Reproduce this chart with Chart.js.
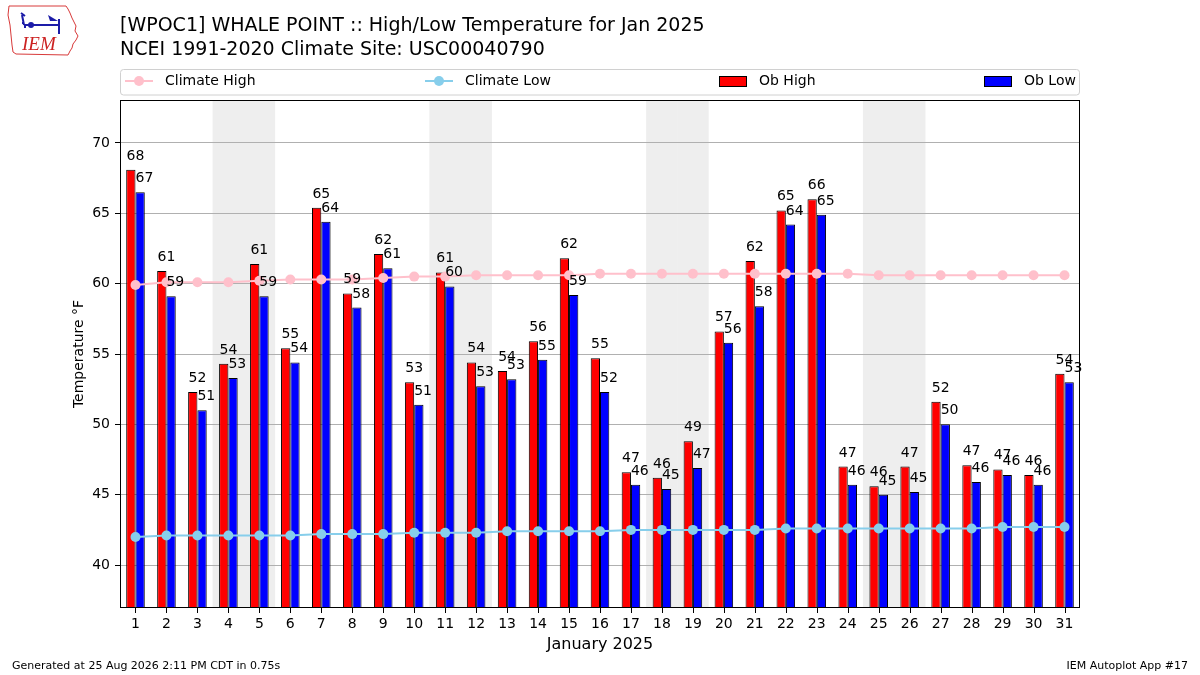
<!DOCTYPE html>
<html>
<head>
<meta charset="utf-8">
<script src="https://cdn.jsdelivr.net/npm/chart.js@4.4.1/dist/chart.umd.min.js"></script>
<style>
  html, body { margin: 0; padding: 0; background: #fff; }
  canvas { display: block; }
</style>
</head>
<body>
<canvas id="chart" width="1200" height="675"></canvas>
<script>
// WPOC1 Whale Point - Jan 2025 daily high/low vs NCEI climate

const days = ['1','2','3','4','5','6','7','8','9','10','11','12','13','14','15','16',
  '17','18','19','20','21','22','23','24','25','26','27','28','29','30','31'];
const obHigh = [68.1, 60.9, 52.3, 54.3, 61.4, 55.4, 65.4, 59.3, 62.1, 53.0, 60.8, 54.4, 53.8, 55.9, 61.8, 54.7,
  46.6, 46.2, 48.8, 56.6, 61.6, 65.2, 66.0, 47.0, 45.6, 47.0, 51.6, 47.1, 46.8, 46.4, 53.6];
const obLow = [66.5, 59.1, 51.0, 53.3, 59.1, 54.4, 64.4, 58.3, 61.1, 51.4, 59.8, 52.7, 53.2, 54.6, 59.2, 52.3,
  45.7, 45.4, 46.9, 55.8, 58.4, 64.2, 64.9, 45.7, 45.0, 45.2, 50.0, 45.9, 46.4, 45.7, 53.0];
const climateHigh = [59.9, 60.1, 60.1, 60.1, 60.2, 60.3, 60.3, 60.3, 60.4, 60.5, 60.5, 60.6, 60.6, 60.6, 60.6, 60.7,
  60.7, 60.7, 60.7, 60.7, 60.7, 60.7, 60.7, 60.7, 60.6, 60.6, 60.6, 60.6, 60.6, 60.6, 60.6];
const climateLow = [42.0, 42.1, 42.1, 42.1, 42.1, 42.1, 42.2, 42.2, 42.2, 42.3, 42.3, 42.3, 42.4, 42.4, 42.4, 42.4,
  42.5, 42.5, 42.5, 42.5, 42.5, 42.6, 42.6, 42.6, 42.6, 42.6, 42.6, 42.6, 42.7, 42.7, 42.7];
const weekendDays = [4, 5, 11, 12, 18, 19, 25, 26];
const yTicks = [40, 45, 50, 55, 60, 65, 70];

const FONT = '"DejaVu Sans", sans-serif';

// gray bands behind weekends
const weekendBands = {
  id: 'weekendBands',
  beforeDraw(chart) {
    const {ctx, chartArea: a, scales: {x}} = chart;
    ctx.save();
    ctx.fillStyle = '#fff';
    ctx.fillRect(0, 0, chart.width, chart.height);
    const w = x.getPixelForValue(1) - x.getPixelForValue(0);
    ctx.fillStyle = '#eeeeee';
    weekendDays.forEach(d => {
      const px = x.getPixelForValue(d - 1);
      ctx.fillRect(px - w / 2 - 0.3, a.top, w + 0.6, a.bottom - a.top);
    });
    ctx.restore();
  }
};

// frame, x tick marks + rounded value labels over bars
const barLabels = {
  id: 'barLabels',
  afterDatasetsDraw(chart) {
    const {ctx, chartArea: a, scales: {x}} = chart;
    ctx.save();
    ctx.strokeStyle = '#000';
    ctx.lineWidth = 1;
    ctx.strokeRect(a.left + 0.5, a.top + 0.5, a.right - a.left - 1, a.bottom - a.top - 1);
    ctx.beginPath();
    days.forEach((d, i) => {
      const px = Math.round(x.getPixelForValue(i)) + 0.5;
      ctx.moveTo(px, a.bottom);
      ctx.lineTo(px, a.bottom + 5);
    });
    ctx.stroke();

    ctx.font = '14px ' + FONT;
    ctx.fillStyle = '#000';
    ctx.textBaseline = 'alphabetic';
    [2, 3].forEach(di => {
      const meta = chart.getDatasetMeta(di);
      const vals = chart.data.datasets[di].data;
      meta.data.forEach((bar, i) => {
        if (di === 2) {
          ctx.textAlign = 'center';
          ctx.fillText(String(Math.round(vals[i])), bar.x + bar.width / 2, bar.y - 10);
        } else {
          ctx.textAlign = 'left';
          ctx.fillText(String(Math.round(vals[i])), bar.x - bar.width / 2, bar.y - 10);
        }
      });
    });
    ctx.restore();
  }
};

// titles, legend box, footer and logo
const decorations = {
  id: 'decorations',
  afterDraw(chart) {
    const ctx = chart.ctx;
    ctx.save();

    ctx.fillStyle = '#000';
    ctx.textAlign = 'left';
    ctx.textBaseline = 'alphabetic';
    ctx.font = '19px ' + FONT;
    ctx.fillText('[WPOC1] WHALE POINT :: High/Low Temperature for Jan 2025', 120, 31);
    ctx.fillText('NCEI 1991-2020 Climate Site: USC00040790', 120, 55);

    // legend
    const lx = 120.5, ly = 69.5, lw = 959, lh = 25.5, r = 3;
    ctx.beginPath();
    ctx.moveTo(lx + r, ly);
    ctx.arcTo(lx + lw, ly, lx + lw, ly + lh, r);
    ctx.arcTo(lx + lw, ly + lh, lx, ly + lh, r);
    ctx.arcTo(lx, ly + lh, lx, ly, r);
    ctx.arcTo(lx, ly, lx + lw, ly, r);
    ctx.closePath();
    ctx.fillStyle = 'rgba(255,255,255,0.8)';
    ctx.fill();
    ctx.strokeStyle = '#d0d0d0';
    ctx.lineWidth = 1;
    ctx.stroke();

    const my = 81;
    const lineItem = (x0, color, label) => {
      ctx.strokeStyle = color;
      ctx.lineWidth = 2;
      ctx.beginPath();
      ctx.moveTo(x0, my);
      ctx.lineTo(x0 + 28, my);
      ctx.stroke();
      ctx.fillStyle = color;
      ctx.beginPath();
      ctx.arc(x0 + 14, my, 5, 0, Math.PI * 2);
      ctx.fill();
      ctx.fillStyle = '#000';
      ctx.font = '14px ' + FONT;
      ctx.textBaseline = 'middle';
      ctx.fillText(label, x0 + 40, my);
    };
    const boxItem = (x0, color, label) => {
      ctx.fillStyle = color;
      ctx.fillRect(x0, 76.5, 28, 10);
      ctx.strokeStyle = '#000';
      ctx.lineWidth = 1;
      ctx.strokeRect(x0 + 0.5, 76.5, 27, 10);
      ctx.fillStyle = '#000';
      ctx.font = '14px ' + FONT;
      ctx.textBaseline = 'middle';
      ctx.fillText(label, x0 + 40, my);
    };
    lineItem(125, '#ffc0cb', 'Climate High');
    lineItem(425, '#87ceeb', 'Climate Low');
    boxItem(719, '#ff0000', 'Ob High');
    boxItem(984, '#0000ff', 'Ob Low');

    // footer
    ctx.font = '11px ' + FONT;
    ctx.fillStyle = '#000';
    ctx.textBaseline = 'alphabetic';
    ctx.textAlign = 'left';
    ctx.fillText('Generated at 25 Aug 2026 2:11 PM CDT in 0.75s', 12, 669);
    ctx.textAlign = 'right';
    ctx.fillText('IEM Autoplot App #17', 1188, 669);

    // IEM logo (rough)
    ctx.strokeStyle = '#d83a3a';
    ctx.lineWidth = 1;
    ctx.beginPath();
    const outline = [[9,6],[66,6],[68,9],[70,13],[72,18],[74,22],[76,26],[75,31],[78,36],[76,40],
      [73,44],[72,48],[70,51],[68,55],[16,54],[13,52],[12,45],[11,35],[10,25],[8,15],[9,6]];
    outline.forEach(([px, py], i) => i ? ctx.lineTo(px, py) : ctx.moveTo(px, py));
    ctx.stroke();

    ctx.strokeStyle = '#1c1ca8';
    ctx.fillStyle = '#1c1ca8';
    ctx.lineWidth = 2;
    ctx.beginPath();
    ctx.moveTo(24, 25); ctx.lineTo(60, 25);
    ctx.moveTo(24, 25); ctx.lineTo(22, 15);
    ctx.moveTo(21, 13); ctx.lineTo(25, 16);
    ctx.moveTo(59, 19); ctx.lineTo(59, 34);
    ctx.stroke();
    ctx.beginPath();
    ctx.arc(31, 25, 3, 0, Math.PI * 2);
    ctx.fill();
    ctx.beginPath();
    ctx.moveTo(48, 15); ctx.lineTo(58, 21); ctx.lineTo(50, 21); ctx.closePath();
    ctx.fill();
    ctx.fillRect(22, 22, 2, 2);
    ctx.fillRect(24, 26, 2, 2);

    ctx.fillStyle = '#cc2222';
    ctx.font = 'italic 19px "Liberation Serif", serif';
    ctx.textAlign = 'left';
    ctx.fillText('IEM', 22, 50);

    ctx.restore();
  }
};

new Chart(document.getElementById('chart').getContext('2d'), {
  type: 'bar',
  data: {
    labels: days,
    datasets: [
      {
        type: 'line',
        label: 'Climate High',
        data: climateHigh,
        borderColor: '#ffc0cb',
        backgroundColor: '#ffc0cb',
        borderWidth: 2,
        pointRadius: 5,
        pointBorderWidth: 0,
        tension: 0,
        order: 0
      },
      {
        type: 'line',
        label: 'Climate Low',
        data: climateLow,
        borderColor: '#87ceeb',
        backgroundColor: '#87ceeb',
        borderWidth: 2,
        pointRadius: 5,
        pointBorderWidth: 0,
        tension: 0,
        order: 0
      },
      {
        label: 'Ob High',
        data: obHigh,
        backgroundColor: '#ff0000',
        borderColor: '#000',
        borderWidth: 1,
        categoryPercentage: 0.6,
        barPercentage: 1.0,
        order: 1
      },
      {
        label: 'Ob Low',
        data: obLow,
        backgroundColor: '#0000ff',
        borderColor: '#000',
        borderWidth: 1,
        categoryPercentage: 0.6,
        barPercentage: 1.0,
        order: 1
      }
    ]
  },
  options: {
    responsive: false,
    animation: false,
    devicePixelRatio: 1,
    layout: {padding: {top: 100, right: 120, left: 0, bottom: 0}},
    plugins: {
      legend: {display: false},
      tooltip: {enabled: false},
      title: {display: false}
    },
    scales: {
      x: {
        offset: true,
        grid: {display: true, offset: false, drawOnChartArea: false, drawTicks: true, tickLength: 5, color: 'rgba(0,0,0,0)'},
        border: {display: false},
        ticks: {color: '#000', font: {family: FONT, size: 14}, autoSkip: false, maxRotation: 0, padding: 3},
        title: {display: true, text: 'January 2025', color: '#000', font: {family: FONT, size: 16}, padding: {top: 0, bottom: 21}},
        afterFit: s => { s.height = 67; }
      },
      y: {
        min: 36.95,
        max: 73.05,
        afterBuildTicks: s => { s.ticks = yTicks.map(v => ({value: v})); },
        grid: {color: '#b0b0b0', lineWidth: 1, tickColor: '#000', tickLength: 5},
        border: {display: false},
        ticks: {color: '#000', font: {family: FONT, size: 14}, padding: 5},
        title: {display: true, text: 'Temperature °F', color: '#000', font: {family: FONT, size: 14}, padding: {top: 71, bottom: 0}},
        afterFit: s => { s.width = 120; }
      }
    }
  },
  plugins: [weekendBands, barLabels, decorations]
});
</script>
</body>
</html>
